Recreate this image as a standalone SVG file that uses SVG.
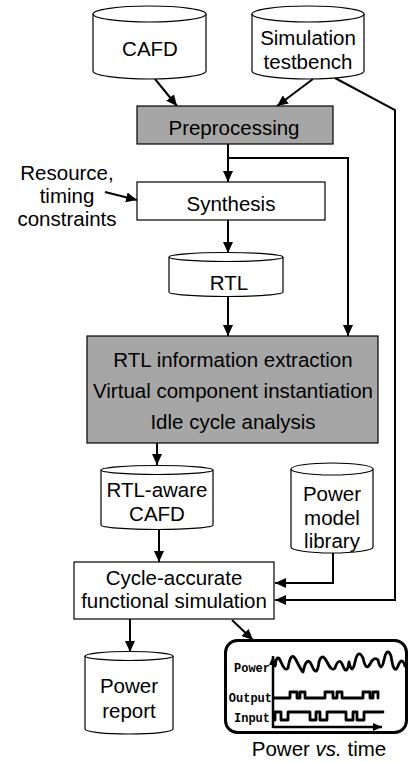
<svg xmlns="http://www.w3.org/2000/svg" width="409" height="762" viewBox="0 0 409 762">
<style>
.box{fill:#fff;stroke:#000;stroke-width:1.2}
.gray{fill:#a6a6a6;stroke:#000;stroke-width:1.2}
.cyl{fill:#fff;stroke:#000;stroke-width:1.2}
.t{font-family:"Liberation Sans",Arial,sans-serif;font-size:20.5px;text-anchor:middle;fill:#000}
.m{font-family:"Liberation Mono","Courier New",monospace;font-size:12px;font-weight:bold;text-anchor:end;fill:#000}
.c{fill:none;stroke:#000;stroke-width:2}
.w{fill:none;stroke:#000;stroke-width:2.8;stroke-linejoin:round;stroke-linecap:round}
</style>
<defs>
<marker id="ah" markerUnits="userSpaceOnUse" markerWidth="12" markerHeight="10" refX="11" refY="5" orient="auto">
<path d="M0,0 L11,5 L0,10 z" fill="#000"/>
</marker>
<marker id="sa" markerUnits="userSpaceOnUse" markerWidth="10" markerHeight="8" refX="9" refY="4" orient="auto">
<path d="M0,0 L9,4 L0,8 z" fill="#000"/>
</marker>
</defs>

<g id="connectors">
<path class="c" d="M155,79 L177,106" marker-end="url(#ah)"/>
<path class="c" d="M313,79 L277,106" marker-end="url(#ah)"/>
<path class="c" d="M335,78 L395,110 L395,600 L275,600" marker-end="url(#ah)"/>
<path class="c" d="M228,144 L228,182" marker-end="url(#ah)"/>
<path class="c" d="M228,158 L348,158 L348,336" marker-end="url(#ah)"/>
<path class="c" d="M105,192 L137,200" marker-end="url(#ah)"/>
<path class="c" d="M228,220 L228,253" marker-end="url(#ah)"/>
<path class="c" d="M228,297 L228,336" marker-end="url(#ah)"/>
<path class="c" d="M157,443 L157,465" marker-end="url(#ah)"/>
<path class="c" d="M159,529 L159,562" marker-end="url(#ah)"/>
<path class="c" d="M333,553 L333,583 L275,583" marker-end="url(#ah)"/>
<path class="c" d="M130,619 L130,652" marker-end="url(#ah)"/>
<path class="c" d="M232,620 L253,640" marker-end="url(#ah)"/>
</g>

<g id="cafd">
<path class="cyl" d="M93,14 V71 A56.5,8 0 0 0 206,71 V14"/>
<ellipse class="cyl" cx="149.5" cy="14" rx="56.5" ry="8"/>
<text class="t" x="150" y="56">CAFD</text>
</g>

<g id="testbench">
<path class="cyl" d="M252,14 V71 A56,8 0 0 0 364,71 V14"/>
<ellipse class="cyl" cx="308" cy="14" rx="56" ry="8"/>
<text class="t" x="308" y="45">Simulation</text>
<text class="t" x="308" y="69">testbench</text>
</g>

<g id="preprocessing">
<rect class="gray" x="137" y="106" width="196" height="38"/>
<text class="t" x="234" y="135">Preprocessing</text>
</g>

<g id="constraints">
<text class="t" x="67" y="180">Resource,</text>
<text class="t" x="67" y="203">timing</text>
<text class="t" x="67" y="226">constraints</text>
</g>

<g id="synthesis">
<rect class="box" x="137" y="182" width="188" height="38"/>
<text class="t" x="231" y="211">Synthesis</text>
</g>

<g id="rtl">
<path class="cyl" d="M169,257 V292 A57,4.5 0 0 0 283,292 V257"/>
<ellipse class="cyl" cx="226" cy="257" rx="57" ry="4.5"/>
<text class="t" x="229" y="290">RTL</text>
</g>

<g id="rtl-info">
<rect class="gray" x="87" y="336" width="291" height="107"/>
<text class="t" x="233" y="367">RTL information extraction</text>
<text class="t" x="233" y="398">Virtual component instantiation</text>
<text class="t" x="233" y="429">Idle cycle analysis</text>
</g>

<g id="rtl-aware">
<path class="cyl" d="M101,470 V525 A56,4.5 0 0 0 213,525 V470"/>
<ellipse class="cyl" cx="157" cy="470" rx="56" ry="4.5"/>
<text class="t" x="157" y="497">RTL-aware</text>
<text class="t" x="157" y="521">CAFD</text>
</g>

<g id="power-model">
<path class="cyl" d="M291,469 V547 A41,6 0 0 0 373,547 V469"/>
<ellipse class="cyl" cx="332" cy="469" rx="41" ry="6"/>
<text class="t" x="332" y="501">Power</text>
<text class="t" x="332" y="525">model</text>
<text class="t" x="332" y="548">library</text>
</g>

<g id="simulation">
<rect class="box" x="74" y="562" width="200" height="57"/>
<text class="t" x="174" y="585">Cycle-accurate</text>
<text class="t" x="174" y="608">functional simulation</text>
</g>

<g id="power-report">
<path class="cyl" d="M85,656 V729 A44,5 0 0 0 173,729 V656"/>
<ellipse class="cyl" cx="129" cy="656" rx="44" ry="4.5"/>
<text class="t" x="129" y="693">Power</text>
<text class="t" x="129" y="718">report</text>
</g>

<g id="power-vs-time">
<rect x="225.5" y="640.5" width="181" height="92" rx="12" fill="#fff" stroke="#000" stroke-width="3"/>
<path d="M273,728 L273,656" fill="none" stroke="#000" stroke-width="2.5" marker-end="url(#sa)"/>
<path d="M273,727 L382,727" fill="none" stroke="#000" stroke-width="2.5" marker-end="url(#sa)"/>
<path class="w" d="M275,666 Q277,652 281,662 T288,668 Q291,650 296,660 T303,672 Q307,654 312,666 T319,662 Q322,652 327,662 T335,668 Q339,656 343,666 T349,662 Q352,676 355,662 T363,658 Q366,672 370,664 T378,660 Q381,674 384,660 T391,656 Q394,676 398,666 T405,666"/>
<path class="w" d="M274,698 H290 V692 H297 V698 H300 V692 H305 V698 H325 V692 H333 V698 H337 V692 H342 V698 H363 V692 H370 V698 H373 V692 H378 V698"/>
<path class="w" d="M275,720 V712 H281 V720 H288 V712 H310 V720 H316 V712 H320 V720 H327 V712 H346 V720 H353 V712 H357 V720 H364 V712 H383"/>
<text class="m" x="270" y="672">Power</text>
<text class="m" x="272" y="702">Output</text>
<text class="m" x="270" y="722">Input</text>
</g>

<g id="caption">
<text class="t" x="319" y="756">Power <tspan font-style="italic">vs.</tspan> time</text>
</g>
</svg>
